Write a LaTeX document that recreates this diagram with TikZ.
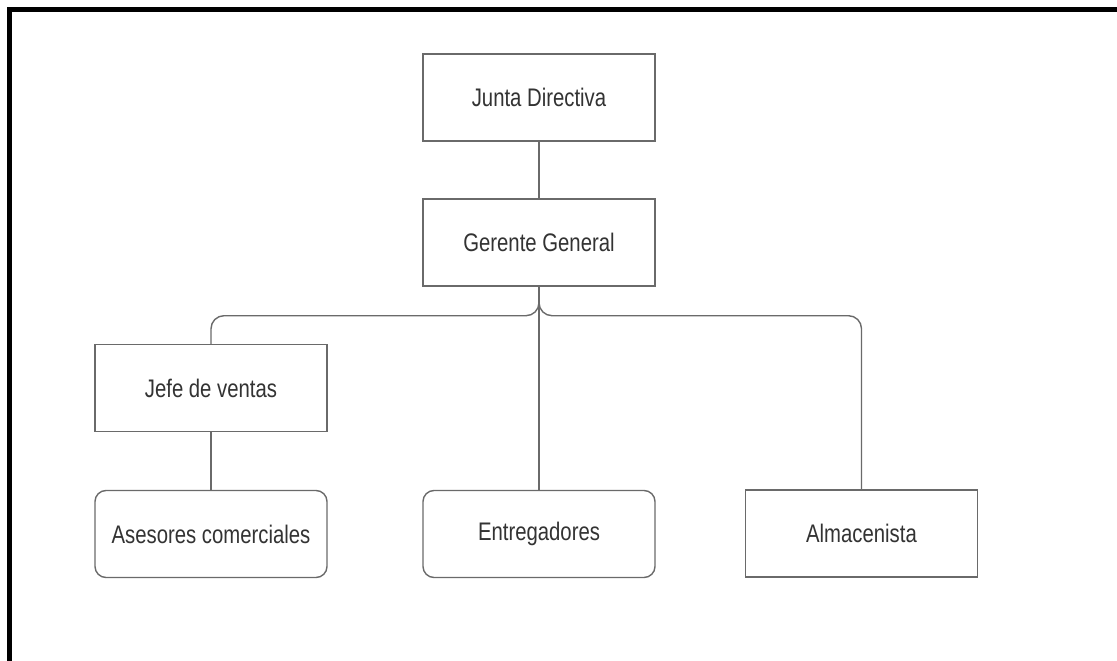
\documentclass[tikz,border=0pt]{standalone}
\usepackage{fontspec}
\setmainfont[FakeStretch=0.8]{Liberation Sans}
\definecolor{linec}{HTML}{6A6A6A}
\definecolor{textc}{HTML}{333333}
\begin{document}
\begin{tikzpicture}[x=1pt,y=-1pt,
  box/.style={draw=linec,line width=1.4pt,fill=white,minimum width=232pt,minimum height=87pt,inner sep=0pt,text=textc,font=\fontsize{25.4}{29}\selectfont},
  rbox/.style={box,rounded corners=11pt},
  conn/.style={draw=linec,line width=1.4pt}]
\useasboundingbox (0,0) rectangle (1117,661);
\fill[white] (0,0) rectangle (1117,661);
\draw[line width=5pt,black] (9.5,661) -- (9.5,9.5) -- (1117,9.5);
\node[box] (jd) at (539,97.5) {Junta Directiva};
\node[box] (gg) at (539,242.5) {Gerente General};
\node[box] (jv) at (211,388) {Jefe de ventas};
\node[rbox] (as) at (211,534) {Asesores comerciales};
\node[rbox] (en) at (539,534) {Entregadores};
\node[box] (al) at (861.5,533.5) {Almacenista};
\draw[conn] (jd) -- (gg);
\draw[conn,rounded corners=13pt] (gg.south) -- ++(0,29) -| (jv.north);
\draw[conn,rounded corners=13pt] (gg.south) -- ++(0,29) -| (al.north);
\draw[conn] (gg.south) -- (en.north);
\draw[conn] (jv) -- (as);
\end{tikzpicture}
\end{document}
